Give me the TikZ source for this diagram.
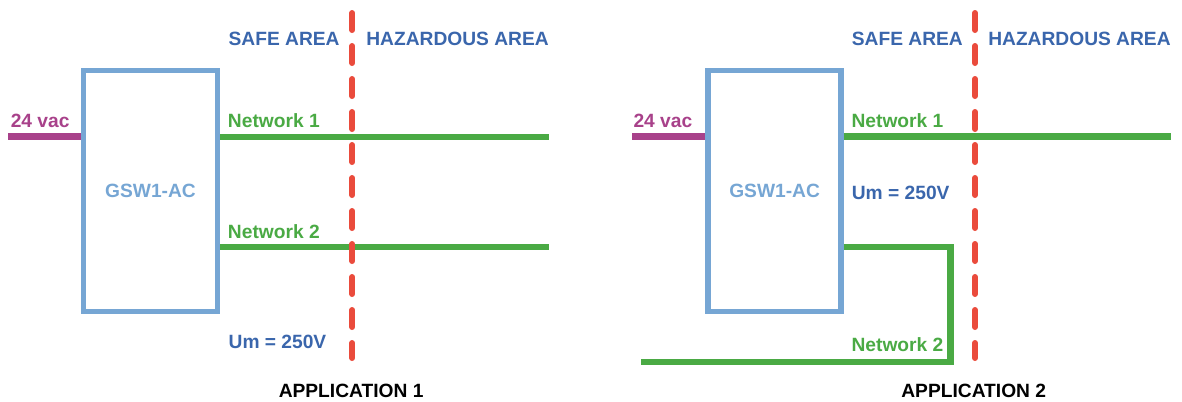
\documentclass[tikz,border=0pt]{standalone}
\usepackage{fontspec}
\setmainfont{Liberation Sans}
\definecolor{tblue}{HTML}{3A66AC}
\definecolor{lblue}{HTML}{76A6D4}
\definecolor{purp}{HTML}{A8418A}
\definecolor{grn}{HTML}{4AAA44}
\definecolor{rd}{HTML}{EA4B3C}
\begin{document}
\begin{tikzpicture}[x=0.75pt,y=-0.75pt,
  lbl/.style={inner sep=0pt,anchor=west,font=\fontsize{14.4pt}{16pt}\selectfont\bfseries},
  devbox/.style={draw=lblue,line width=4.1pt,inner sep=0pt,minimum width=#1*0.75pt,minimum height=180.75pt,text=lblue,font=\fontsize{14.4pt}{16pt}\selectfont\bfseries},
  power/.style={draw=purp,line width=4.6pt},
  net/.style={draw=grn,line width=4.6pt,line join=miter},
  barrier/.style={draw=rd,line width=4.5pt,line cap=round,dash pattern=on 12.75pt off 12pt}]
\useasboundingbox (0,0) rectangle (1182,401);
% ---------- Application 1 ----------
\node[devbox=133.6] (b1) at (150.5,191) {GSW1-AC};
\coordinate (p1) at (8,136.5);
\coordinate (n1a) at (548.6,137);
\coordinate (n2a) at (548.6,247);
\coordinate (r1t) at (352.2,13);
\coordinate (r1b) at (352.2,358);
\draw[power] (p1) -- (p1 -| b1.west);
\draw[net] (n1a -| b1.east) -- (n1a);
\draw[net] (n2a -| b1.east) -- (n2a);
\draw[barrier] (r1t) -- (r1b);
\node[lbl,text=purp] (l24a) at (10.5,120.5) {24 vac};
\node[lbl,text=grn] (ln1a) at (227.7,120.5) {Network 1};
\node[lbl,text=grn] (ln2a) at (227.7,231.5) {Network 2};
\node[lbl,text=tblue] (sa1) at (228.4,39) {SAFE AREA};
\node[lbl,text=tblue] (ha1) at (366.1,39) {HAZARDOUS AREA};
\node[lbl,text=tblue] (um1) at (228.4,342) {Um = 250V};
\node[lbl,text=black] (ap1) at (278.5,391) {APPLICATION 1};
% ---------- Application 2 ----------
\node[devbox=133] (b2) at (774.6,191) {GSW1-AC};
\coordinate (p2) at (632,136.5);
\coordinate (n1b) at (1171,136.5);
\coordinate (n2s) at (842,247);
\coordinate (n2c1) at (950.5,247);
\coordinate (n2c2) at (950.5,362);
\coordinate (n2e) at (640.6,362);
\coordinate (r2t) at (975,13);
\coordinate (r2b) at (975,358);
\draw[power] (p2) -- (p2 -| b2.west);
\draw[net] (n1b -| b2.east) -- (n1b);
\draw[net] (n2s -| b2.east) -- (n2c1) -- (n2c2) -- (n2e);
\draw[barrier] (r2t) -- (r2b);
\node[lbl,text=purp] (l24b) at (633.3,120.5) {24 vac};
\node[lbl,text=grn] (ln1b) at (851.3,120.5) {Network 1};
\node[lbl,text=grn] (ln2b) at (851.3,345) {Network 2};
\node[lbl,text=tblue] (sa2) at (851.6,39) {SAFE AREA};
\node[lbl,text=tblue] (ha2) at (988,39) {HAZARDOUS AREA};
\node[lbl,text=tblue] (um2) at (851.6,193) {Um = 250V};
\node[lbl,text=black] (ap2) at (901.1,391) {APPLICATION 2};
\end{tikzpicture}
\end{document}
